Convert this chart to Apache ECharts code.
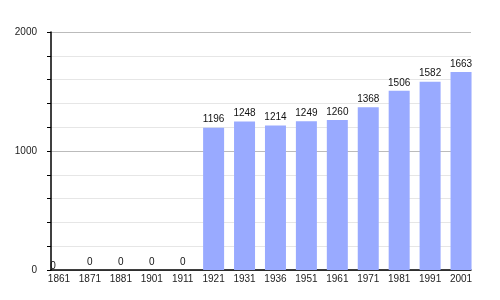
<!DOCTYPE html>
<html><head><meta charset="utf-8">
<script src="https://cdn.jsdelivr.net/npm/echarts@6/dist/echarts.min.js"></script>
<style>html,body{margin:0;padding:0;background:#fff}#c{width:500px;height:300px}</style>
</head><body><div id="c"></div>
<script>
var years = ['1861','1871','1881','1901','1911','1921','1931','1936','1951','1961','1971','1981','1991','2001'];
var population = [0,0,0,0,0,1196,1248,1214,1249,1260,1368,1506,1582,1663];
var yTicks = [0,1000,2000];

var font = 'Liberation Sans, Arial, sans-serif';
var chart = echarts.init(document.getElementById('c'), null, {renderer:'canvas'});
var barData = population.map(function(v,i){
  var d = {value:v};
  if(i===0){ d.label = {offset:[-6,4]}; }
  return d;
});
chart.setOption({
  animation:false,
  backgroundColor:'#fff',
  grid:[
    {left:43.5,right:23.5,top:32,bottom:30},
    {left:51,right:29,top:32,bottom:30}
  ],
  xAxis:[
    {gridIndex:0,type:'category',data:years,boundaryGap:true,
     axisLine:{show:false},axisTick:{show:false},
     axisLabel:{color:'#222',fontSize:10,fontFamily:font,margin:4}},
    {gridIndex:1,type:'value',min:0,max:1,show:true,
     axisLine:{show:true,lineStyle:{color:'#000',width:1.5}},
     axisTick:{show:false},axisLabel:{show:false},splitLine:{show:false}}
  ],
  yAxis:[
    {gridIndex:0,type:'value',min:0,max:2000,interval:200,show:false},
    {gridIndex:1,type:'value',min:0,max:2000,interval:200,
     axisLine:{show:true,lineStyle:{color:'#000',width:1.5}},
     axisTick:{show:true,length:4,inside:false,lineStyle:{color:'#000'}},
     axisLabel:{color:'#222',fontSize:10,fontFamily:font,margin:14,
       formatter:function(v){return yTicks.indexOf(v)>=0?String(v):'';}},
     splitLine:{show:true,lineStyle:{color:['#bbb','#e6e6e6','#e6e6e6','#e6e6e6','#e6e6e6'],width:1}}}
  ],
  series:[{
    type:'bar',xAxisIndex:0,yAxisIndex:0,data:barData,barWidth:21,
    itemStyle:{color:'#99aaff'},
    label:{show:true,position:'top',distance:3,color:'#111',fontSize:10,fontFamily:font},
    z:3
  }]
});
</script></body></html>
